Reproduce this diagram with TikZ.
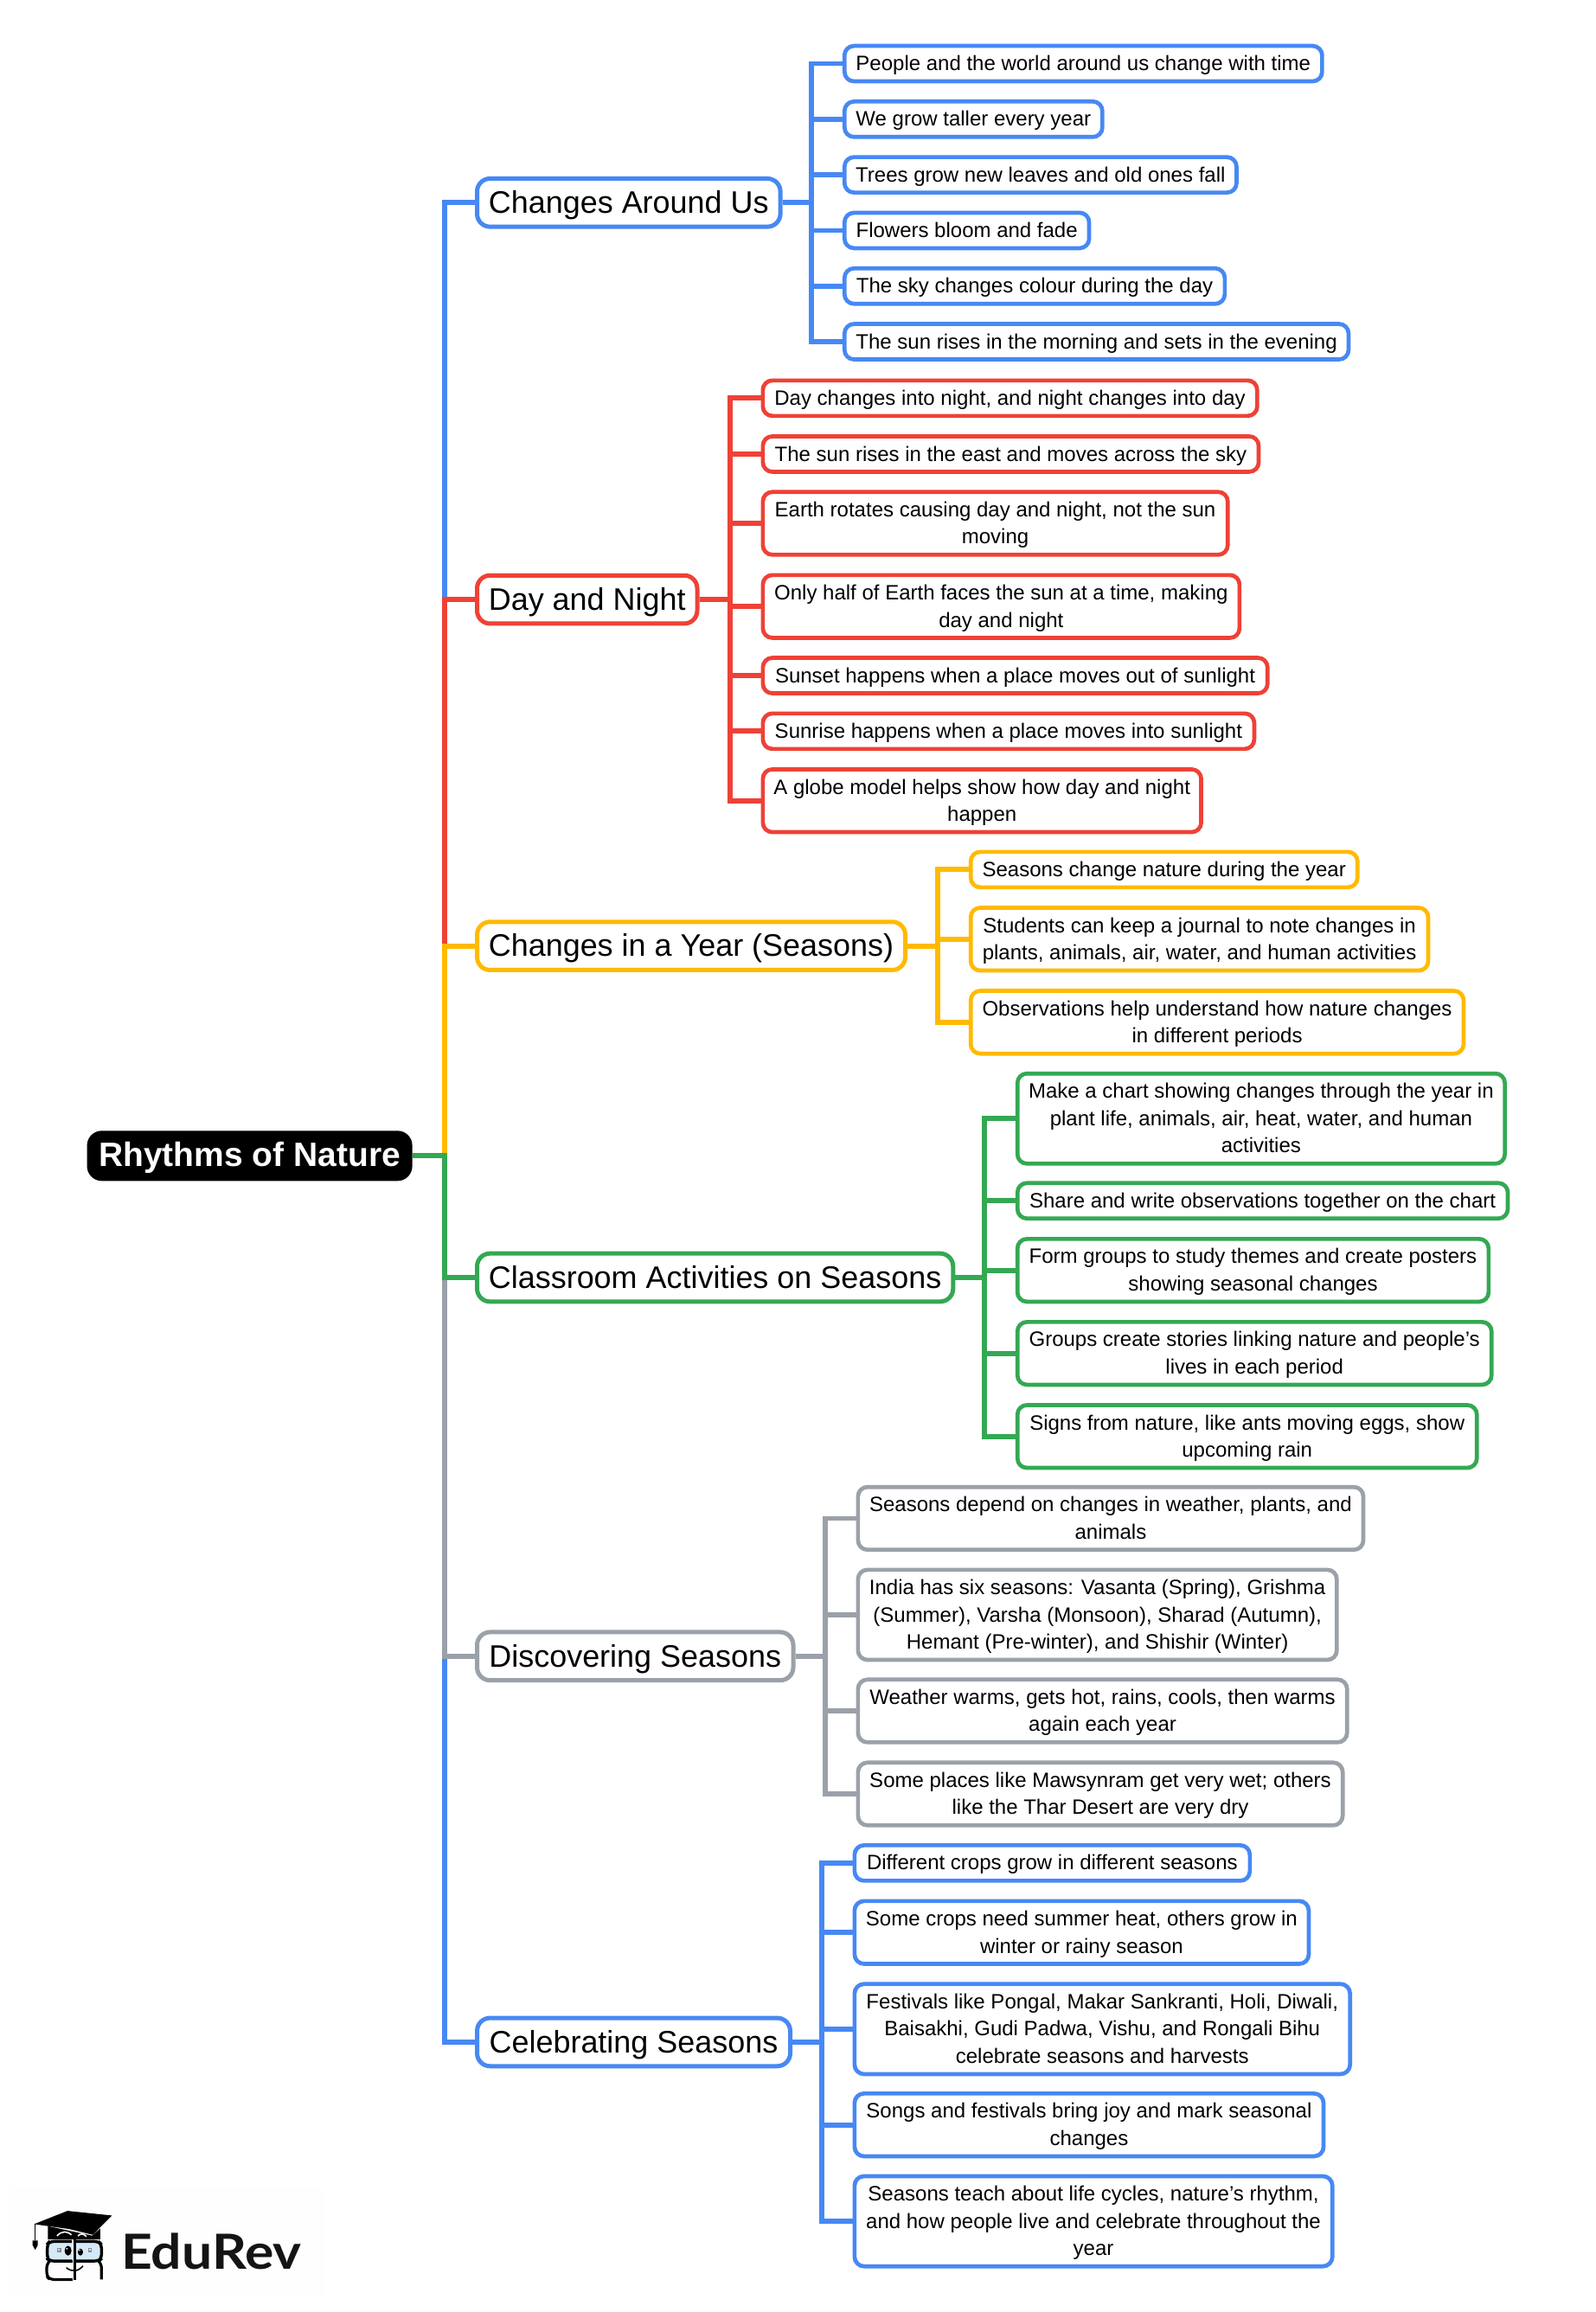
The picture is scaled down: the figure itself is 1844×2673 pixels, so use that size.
\documentclass[tikz,border=0pt]{standalone}
\usepackage{fontspec}
\setmainfont{Liberation Sans}
\newfontfamily\logofont[FakeStretch=1.115]{Lato}
\definecolor{cblue}{HTML}{4788F4}
\definecolor{cred}{HTML}{EF4136}
\definecolor{cyellow}{HTML}{FFBA00}
\definecolor{cgreen}{HTML}{34A853}
\definecolor{cgray}{HTML}{9BA1A9}
\definecolor{cglass}{HTML}{D5EAF8}
\tikzset{
  leafbox/.style={draw=#1,line width=4.7pt,rounded corners=11pt,fill=white,align=center,inner sep=0pt,text=black,font=\fontsize{24}{31.6}\selectfont},
  branchbox/.style={draw=#1,line width=5pt,rounded corners=15pt,fill=white,align=center,inner sep=0pt,text=black,font=\fontsize{35.95}{42}\selectfont},
  rootbox/.style={fill=black,rounded corners=17pt,text=white,inner sep=0pt,font=\fontsize{39}{44}\selectfont\bfseries},
  conn/.style={draw=#1,line width=5.8pt,line cap=butt,line join=miter},
}
% name, x1, x2, top (outer edges, px), number of lines, colour, text
\newcommand{\lf}[7]{%
  \pgfmathsetmacro\bw{#3+2-#2-0.5-4.7}%
  \pgfmathsetmacro\bh{45.7+31.6*(#5-1)-4.7}%
  \pgfmathsetmacro\by{#4+(45.7+31.6*(#5-1))/2}%
  \draw[conn=#6] (\curb.east) -- (\curb.east -| \curs) |- ({#2+2},\by);%
  \node[leafbox=#6,minimum width=\bw pt,minimum height=\bh pt] (#1) at ({(#2+0.5+#3+2)/2},\by) {\rule{0pt}{24.6pt}#7\rule[-8.4pt]{0pt}{0pt}};%
}
% name, x2, centre y, colour, text
\newcommand{\br}[5]{%
  \pgfmathsetmacro\bw{#2+2-549-5}%
  \node[branchbox=#4,minimum width=\bw pt,minimum height=55.7pt] (#1) at ({(549+#2+2)/2},#3) {\rule{0pt}{37.4pt}#5\rule[-13pt]{0pt}{0pt}};%
}
\begin{document}
\begin{tikzpicture}[x=1pt,y=-1pt]
\useasboundingbox (0,0) rectangle (1844,2673);
\fill[white] (0,0) rectangle (1844,2673);
% vertical rails
\coordinate (tr) at (513.6,0);
\coordinate (s1) at (938,0);
\coordinate (s2) at (843.7,0);
\coordinate (s3) at (1083.7,0);
\coordinate (s4) at (1137.7,0);
\coordinate (s5) at (953.7,0);
\coordinate (s6) at (949.7,0);
% root
\node[rootbox,minimum width=376pt,minimum height=58pt] (root) at (288.6,1336.3) {\rule{0pt}{37pt}Rhythms of Nature\rule[-12pt]{0pt}{0pt}};
% branches
\br{b1}{902.6}{234.3}{cblue}{Changes Around Us}
\br{b2}{806.5}{693.1}{cred}{Day and Night}
\br{b3}{1047}{1093.6}{cyellow}{Changes in a Year (Seasons)}
\br{b4}{1102.3}{1477}{cgreen}{Classroom Activities on Seasons}
\br{b5}{917.5}{1914.8}{cgray}{Discovering Seasons}
\br{b6}{914}{2360.9}{cblue}{Celebrating Seasons}
% root connectors
\draw[conn=cblue] (root.east) -- (root.east -| tr) |- (b1.west);
\draw[conn=cred] (root.east) -- (root.east -| tr) |- (b2.west);
\draw[conn=cyellow] (root.east) -- (root.east -| tr) |- (b3.west);
\draw[conn=cblue] (root.east) -- (root.east -| tr) |- (b6.west);
\draw[conn=cgray] (root.east) -- (root.east -| tr) |- (b5.west);
\draw[conn=cgreen] (root.east) -- (root.east -| tr) |- (b4.west);
% Changes Around Us
\def\curb{b1}\def\curs{s1}
\lf{a1}{973.4}{1528.7}{50.7}{1}{cblue}{People and the world around us change with time}
\lf{a2}{973.4}{1274.7}{115}{1}{cblue}{We grow taller every year}
\lf{a3}{973.4}{1429.8}{179.3}{1}{cblue}{Trees grow new leaves and old ones fall}
\lf{a4}{973.4}{1259.4}{243.6}{1}{cblue}{Flowers bloom and fade}
\lf{a5}{973.4}{1416.2}{307.9}{1}{cblue}{The sky changes colour during the day}
\lf{a6}{973.4}{1559.3}{372.2}{1}{cblue}{The sun rises in the morning and sets in the evening}
% Day and Night
\def\curb{b2}\def\curs{s2}
\lf{c1}{879}{1453.7}{437.5}{1}{cred}{Day changes into night, and night changes into day}
\lf{c2}{879}{1455.4}{502.1}{1}{cred}{The sun rises in the east and moves across the sky}
\lf{c3}{879}{1419.6}{566.4}{2}{cred}{Earth rotates causing day and night, not the sun\\moving}
\lf{c4}{879}{1433.2}{662.5}{2}{cred}{Only half of Earth faces the sun at a time, making\\day and night}
\lf{c5}{879}{1465.6}{758.2}{1}{cred}{Sunset happens when a place moves out of sunlight}
\lf{c6}{879}{1450.3}{822.5}{1}{cred}{Sunrise happens when a place moves into sunlight}
\lf{c7}{879}{1388.9}{887.1}{2}{cred}{A globe model helps show how day and night\\happen}
% Seasons
\def\curb{b3}\def\curs{s3}
\lf{d1}{1119.3}{1569.6}{982.5}{1}{cyellow}{Seasons change nature during the year}
\lf{d2}{1119.3}{1651.4}{1047.1}{2}{cyellow}{Students can keep a journal to note changes in\\plants, animals, air, water, and human activities}
\lf{d3}{1119.3}{1692.3}{1143.2}{2}{cyellow}{Observations help understand how nature changes\\in different periods}
% Classroom
\def\curb{b4}\def\curs{s4}
\lf{e1}{1173.3}{1740}{1238.8}{3}{cgreen}{Make a chart showing changes through the year in\\plant life, animals, air, heat, water, and human\\activities}
\lf{e2}{1173.3}{1743.4}{1365.4}{1}{cgreen}{Share and write observations together on the chart}
\lf{e3}{1173.3}{1721.2}{1430}{2}{cgreen}{Form groups to study themes and create posters\\showing seasonal changes}
\lf{e4}{1173.3}{1724.6}{1526}{2}{cgreen}{Groups create stories linking nature and people's\\lives in each period}
\lf{e5}{1173.3}{1707.6}{1622.1}{2}{cgreen}{Signs from nature, like ants moving eggs, show\\upcoming rain}
% Discovering
\def\curb{b5}\def\curs{s5}
\lf{f1}{989}{1576.4}{1716.8}{2}{cgray}{Seasons depend on changes in weather, plants, and\\animals}
\lf{f2}{989}{1545.7}{1812.5}{3}{cgray}{India has six seasons: Vasanta (Spring), Grishma\\(Summer), Varsha (Monsoon), Sharad (Autumn),\\Hemant (Pre-winter), and Shishir (Winter)}
\lf{f3}{989}{1557.6}{1939.4}{2}{cgray}{Weather warms, gets hot, rains, cools, then warms\\again each year}
\lf{f4}{989}{1552.5}{2035.4}{2}{cgray}{Some places like Mawsynram get very wet; others\\like the Thar Desert are very dry}
% Celebrating
\def\curb{b6}\def\curs{s6}
\lf{g1}{985}{1445.2}{2131}{1}{cblue}{Different crops grow in different seasons}
\lf{g2}{985}{1513.3}{2195.5}{2}{cblue}{Some crops need summer heat, others grow in\\winter or rainy season}
\lf{g3}{985}{1561}{2291.4}{3}{cblue}{Festivals like Pongal, Makar Sankranti, Holi, Diwali,\\Baisakhi, Gudi Padwa, Vishu, and Rongali Bihu\\celebrate seasons and harvests}
\lf{g4}{985}{1530.4}{2418}{2}{cblue}{Songs and festivals bring joy and mark seasonal\\changes}
\lf{g5}{985}{1540.6}{2513.6}{3}{cblue}{Seasons teach about life cycles, nature’s rhythm,\\and how people live and celebrate throughout the\\year}
% logo
\begin{scope}[x=0.3333pt,y=-0.3333pt,shift={(0,7440)}]
\fill[black!0.4!white] (30,150) rectangle (1125,525);
\fill[cglass] (165,335) rectangle (345,402);
\draw[black,line width=3.4pt,rounded corners=5pt] (252,335) -- (172,335) -- (164,345) -- (164,395) -- (172,403) -- (252,403);
\draw[black,line width=3.4pt,rounded corners=5pt] (264,335) -- (342,335) -- (352,345) -- (352,395) -- (342,403) -- (264,403);
\draw[black,line width=3.2pt,rounded corners=5pt] (172,403) -- (162,412) -- (162,455) -- (172,467) -- (252,467);
\draw[black,line width=3.2pt,rounded corners=5pt] (342,403) -- (352,412) -- (352,467);
\fill[black] (256,325) rectangle (265,470);
\fill[white] (250,328) rectangle (255,400);
\fill[black] (234,229) -- (388,245) -- (322,312) -- (240,292) -- (118,275) -- cycle;
\fill[black] (166,282) -- (320,315) -- (348,290) -- (348,328) -- (166,328) -- cycle;
\draw[white,line width=1.6pt] (198,316) .. controls (215,296) and (235,300) .. (248,312);
\draw[white,line width=1.6pt] (270,316) .. controls (280,306) and (290,308) .. (300,318);
\fill[black] (236,367) ellipse (12 and 17);
\fill[black] (279,372) ellipse (9 and 12);
\fill[white] (232,360) circle (3);
\fill[white] (276,366) circle (2.5);
\fill[black!45] (198,358) rectangle (212,372);
\fill[cglass] (202,362) rectangle (208,368);
\fill[black!45] (305,358) rectangle (319,372);
\fill[cglass] (309,362) rectangle (315,368);
\draw[black,line width=1.6pt] (230,426) .. controls (250,442) and (270,440) .. (288,420);
\draw[black,line width=1pt] (122,275) -- (122,330);
\fill[black] (113,332) -- (131,332) -- (131,348) -- (122,364) -- (113,348) -- cycle;
\node[anchor=base west,inner sep=0pt,text=black!92,font=\logofont\bfseries\fontsize{56}{60}\selectfont] (logo) at (420,432) {EduRev};
\end{scope}
\end{tikzpicture}
\end{document}
